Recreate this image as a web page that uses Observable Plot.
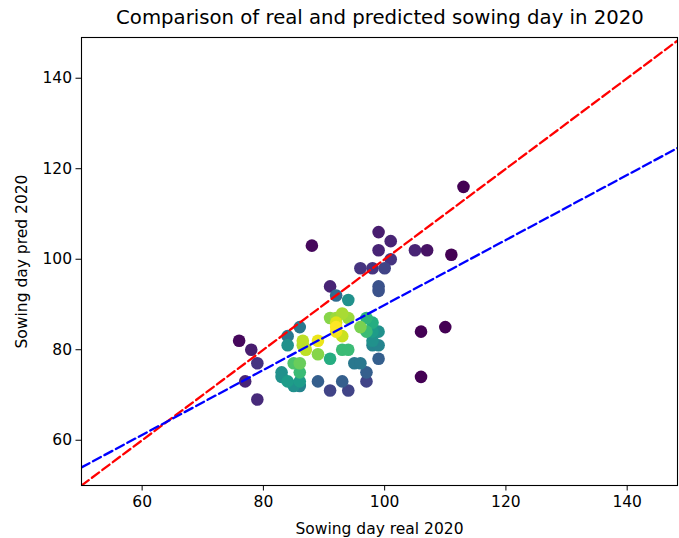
<!DOCTYPE html>
<html>
<head>
<meta charset="utf-8">
<script src="https://cdn.jsdelivr.net/npm/d3@7"></script>
<script src="https://cdn.jsdelivr.net/npm/@observablehq/plot@0.6"></script>
<style>
  body { margin: 0; background: #fff; font-family: "DejaVu Sans", sans-serif; }
  #wrap { width: 679px; height: 538px; position: relative; }
  #title { position: absolute; left: 81px; width: 598px; top: 6px; text-align: center; font-size: 19.7px; color: #000; white-space: nowrap; }
  #chart { position: absolute; left: 0; top: 30px; }
</style>
</head>
<body>
<div id="wrap">
  <div id="title">Comparison of real and predicted sowing day in 2020</div>
  <div id="chart"></div>
</div>
<script>
// Real sowing day (x), predicted sowing day (y), point density colour (0..1, viridis)
const realDay = [113, 88, 99, 101, 99, 105, 107, 111, 101, 96, 98, 100, 99, 99, 91, 92, 94,
  106, 110, 106, 76, 78, 79, 77, 79,
  84, 84, 86, 86.5, 86.5, 87, 89, 89, 85, 86, 83, 83, 84, 85, 86, 86, 86, 89, 91, 91, 93, 94,
  95, 96, 97, 97, 99, 98, 99, 98, 99, 98, 97, 98, 97, 96, 93, 94, 92, 93, 94, 91, 92, 92, 92, 93];
const predDay = [116, 103, 106, 104, 102, 102, 102, 101, 100, 98, 98, 98, 94, 93, 94, 92, 91,
  84, 85, 74, 82, 80, 77, 73, 69,
  83, 81, 85, 82, 81, 80, 82, 79, 77, 77, 75, 74, 73, 72, 72, 73, 75, 73, 78, 71, 73, 71,
  77, 77, 75, 73, 78, 81, 81, 82, 84, 84, 84, 86, 87, 85, 80, 80, 87, 88, 87, 87, 86, 85, 84, 83];
const density = [0.0, 0.02, 0.08, 0.1, 0.1, 0.1, 0.05, 0.0, 0.15, 0.15, 0.15, 0.2, 0.25, 0.25, 0.1, 0.35, 0.5,
  0.0, 0.0, 0.0, 0.02, 0.08, 0.15, 0.1, 0.12,
  0.4, 0.5, 0.4, 0.9, 0.88, 0.9, 0.97, 0.82, 0.72, 0.77, 0.5, 0.5, 0.55, 0.5, 0.45, 0.55, 0.68, 0.3, 0.62, 0.2, 0.3, 0.2,
  0.4, 0.4, 0.3, 0.2, 0.3, 0.45, 0.45, 0.5, 0.5, 0.55, 0.68, 0.62, 0.65, 0.8, 0.68, 0.68, 0.85, 0.87, 0.85, 0.82, 0.95, 1.0, 0.98, 0.92];

// Axis settings
const xDomain = [50, 148.3];
const yDomain = [50, 149];
const tickValues = [60, 80, 100, 120, 140];
// Fitted regression line (pred = slope * real + intercept)
const regSlope = 0.718;
const regIntercept = 18.1;

const points = realDay.map((x, i) => ({x, y: predDay[i], c: density[i]}))
  .sort((a, b) => a.c - b.c);
const identityLine = xDomain.map(x => ({x, y: x}));
const regLine = xDomain.map(x => ({x, y: regSlope * x + regIntercept}));

const chart = Plot.plot({
  width: 679,
  height: 508,
  marginTop: 7,
  marginBottom: 53,
  marginLeft: 81,
  marginRight: 2,
  style: {fontFamily: "DejaVu Sans", fontSize: "15px", color: "#000", background: "#fff"},
  x: {domain: xDomain},
  y: {domain: yDomain},
  color: {type: "linear", scheme: "viridis", domain: [0, 1]},
  marks: [
    Plot.dot(points, {x: "x", y: "y", r: 6.3, fill: "c", stroke: null}),
    Plot.line(identityLine, {x: "x", y: "y", stroke: "#ff0000", strokeWidth: 2.3, strokeDasharray: "9,4", clip: true}),
    Plot.line(regLine, {x: "x", y: "y", stroke: "#0000ff", strokeWidth: 2.3, strokeDasharray: "9,4", clip: true}),
    Plot.frame({stroke: "#000", strokeWidth: 1.1}),
    Plot.axisX({ticks: tickValues, tickSize: 5.5, tickPadding: 5, label: "Sowing day real 2020", labelAnchor: "center", labelArrow: "none", labelOffset: 48, fontSize: 15.5}),
    Plot.axisY({ticks: tickValues, tickSize: 5.5, tickPadding: 4, label: "Sowing day pred 2020", labelAnchor: "center", labelArrow: "none", labelOffset: 66, fontSize: 15.5})
  ]
});
document.getElementById("chart").appendChild(chart);
</script>
</body>
</html>
